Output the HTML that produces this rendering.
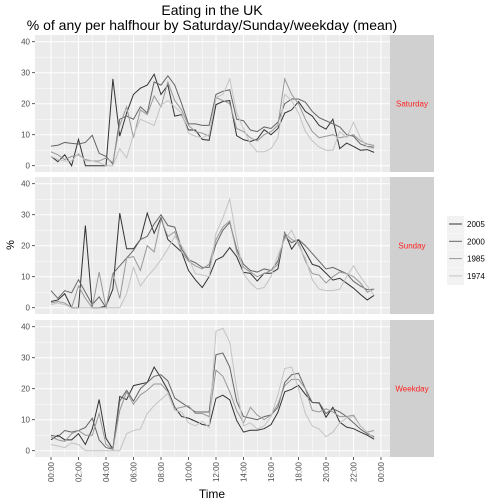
<!DOCTYPE html>
<html><head><meta charset="utf-8"><style>
body{margin:0;background:#fff}
svg{display:block;font-family:"Liberation Sans",sans-serif}
</style></head><body>
<svg id="chart" width="504" height="504" viewBox="0 0 504 504">
<text x="212" y="15" font-size="14" text-anchor="middle">Eating in the UK</text>
<text x="212" y="30" font-size="14" text-anchor="middle">% of any per halfhour by Saturday/Sunday/weekday (mean)</text>
<text x="0" y="0" font-size="11" text-anchor="middle" transform="translate(14,245) rotate(-90)">%</text>
<text x="212" y="498" font-size="12" text-anchor="middle">Time</text>
<g id="panels"></g>
<g id="legend"></g>
</svg>
<script>
const years = ["2005","2000","1985","1974"];
const colors = ["#333333","#666666","#999999","#c4c4c4"];
const facets = ["Saturday","Sunday","Weekday"];
const yTicks = [0,10,20,30,40];
const xTickLabels = ["00:00","02:00","04:00","06:00","08:00","10:00","12:00","14:00","16:00","18:00","20:00","22:00","00:00"];

const sat2005 = [3,1.3,3.5,0,8.5,0,0,0,0,28,9.5,17,23,25,26,29.5,23,26,16,16.5,11.5,11.5,8.5,8.2,19.7,20.7,21,9.7,8.4,7.8,8.6,11.6,10,12,17,18,20.7,17.5,16,13,11.8,15,5.5,7.3,6.2,5,5.2,4.3];
const sat2000 = [6.3,6.6,7.5,7.2,7,7.5,9.8,4,3,0.5,15,16,15,19,17,27,26,29,26,20,13.5,13.5,13,13,23,24,24.5,15,14.5,11.5,11,12.5,12,14,20,21.5,21.5,20.5,17.5,15.5,14.5,13.5,12.5,10,9.5,7,6.2,6];
const sat1985 = [4.5,3.5,2,3,3.5,2,1.5,1.5,2.5,1,13,19,9,18,16.5,22.5,19,27,21,18,13,11,10.5,9.5,22,21,20,12,11,9,8,10,11,13,28,23,20,15,11,9,9.5,10,9,9.5,10,8,7,6.5];
const sat1974 = [3,2,1.5,1.5,4,1.5,1.5,1,0,0,5.5,2.5,10,15,14,13,19.5,21,19,17,10.5,9.5,9,10,22,23,28,17,12,7,4.5,4.5,5.5,9,23,21,17,11,8,6,5,5,11,9,14,9,6,5.5];

const sun2005 = [2,2.5,4.5,0,0,26.5,0,0,0.5,6,30.5,19,19,22,30.5,24,29,22,20,18,12,9,6.5,10,15.4,16.5,19.4,16.5,11.4,11.1,8.6,11.1,11.1,12.5,24.2,18.9,21.9,18.1,14,13.3,11.1,8.9,9.5,7.9,6.3,4.3,2.5,4];
const sun2000 = [5.5,3,5.5,4.8,9,5,1,3.5,0,11,13.5,16,18.5,22,23,27,30,26.5,26,19,15.5,14.5,13,13,20.5,25,27.5,19,14,12,11.5,12.5,12,15,23,21,22,20,17.5,15,12.5,13,12,11,8.5,7,5.8,6];
const sun1985 = [1.5,2,1.5,0,7,3,0,11.5,0,11,3,16,16.5,12,20,18,28.5,23,24.5,18,15,13.5,12.5,14,22,26,28,18,13,11.5,10,11,12,14,24,22,21,15,11,10.5,8,10,11.5,11,10,8,5,6];
const sun1974 = [1,1.5,1,0,0,0,0,0,0,0,0,4.5,13,7,10,12.5,15.5,19,23,20,16,11,10.5,10,24,29,35,22,11,8,6,6.5,10,17,22,25,20,16,9,6,5.5,5.5,6,10,13.5,10,7,4];

const wk2005 = [3.5,5,3.5,3.5,5.5,2,7,16.5,4,0.5,17.5,16.5,21,21.5,22,27,23.5,19.5,14,11,10.5,9.5,8.5,8,16.9,17.9,16.4,9.8,6,6.6,6.6,7.1,8.4,12.4,19,19.8,21.1,18.2,15.6,15.4,10.8,14,9.2,7.6,7.1,6,5,3.7];
const wk2000 = [5,4.5,6.5,6,6.5,7.5,10.5,3.5,1,0.5,16,19.5,16,20,22,24,24.5,22.5,17,15.5,14,12.5,12.5,12.5,31,31.5,27,16,11,10.5,10,11,11.5,14,22,24.5,25,20,15.5,15.5,12,13.5,12.5,11,9,7,5.5,4.5];
const wk1985 = [4.5,3.5,3,5.5,6.5,5,5,12,2,0.5,13,19,15,18,19.5,21.5,21.5,19,13.5,14,14.5,12,12,11,26,24,19,13,9,14,11.5,10,11.5,15,21,23,23,20,13,12.5,13.5,12.5,11,11,11.5,8,6,6.5];
const wk1974 = [2,1.5,1,2.5,2,0,0,0,0,0,0,5.5,6.5,7,12,14.5,16.5,18.5,13,12.5,9,8,9.5,7.5,38.5,39.5,35,20,8,9,7,8,11,18,26.5,27,20,12,8,7,4.5,6,9,10.5,11,8,6,4];

const facetSeries = [[sat2005,sat2000,sat1985,sat1974],[sun2005,sun2000,sun1985,sun1974],[wk2005,wk2000,wk1985,wk1974]];

const NS="http://www.w3.org/2000/svg";
function mk(tag,attrs,parent){const e=document.createElementNS(NS,tag);for(const k in attrs)e.setAttribute(k,attrs[k]);parent.appendChild(e);return e;}
const PX0=35, PX1=390, SX1=434;
const panelTops=[35,177,320], PH=137;
const xScale = h => 51 + h*(330/24);         // hours -> px
const yScaleFor = top => v => top + PH - 6.3 - v*3.1;
const panelsG=document.getElementById('panels');

facets.forEach((f,fi)=>{
  const top=panelTops[fi], ys=yScaleFor(top);
  const g=mk('g',{},panelsG);
  
  
  mk('rect',{x:PX0,y:top,width:PX1-PX0,height:PH,fill:'#ebebeb'},g);
  for(let v=5;v<40;v+=10) mk('line',{x1:PX0,x2:PX1,y1:ys(v),y2:ys(v),stroke:'#fff','stroke-width':0.5},g);
  for(let h=1;h<24;h+=2) mk('line',{x1:xScale(h),x2:xScale(h),y1:top,y2:top+PH,stroke:'#fff','stroke-width':0.5},g);
  yTicks.forEach(v=>{
    mk('line',{x1:PX0,x2:PX1,y1:ys(v),y2:ys(v),stroke:'#fff','stroke-width':1},g);
    mk('line',{x1:PX0-3,x2:PX0,y1:ys(v),y2:ys(v),stroke:'#333','stroke-width':0.8},g);
    const t=mk('text',{x:PX0-5,y:ys(v)+3,'font-size':8,'text-anchor':'end',fill:'#4d4d4d'},g);
    
    
    t.textContent=v;
  });
  xTickLabels.forEach((l,i)=>mk('line',{x1:xScale(i*2),x2:xScale(i*2),y1:top,y2:top+PH,stroke:'#fff','stroke-width':1},g));
  facetSeries[fi].forEach((arr,si)=>{
    const d=arr.map((v,i)=>(i?'L':'M')+xScale(i*0.5).toFixed(2)+','+ys(v).toFixed(2)).join(' ');
    const p=mk('path',{d:d,fill:'none',stroke:colors[si],'stroke-width':1},g);
    
    
  });
  const s=mk('rect',{x:PX1,y:top,width:SX1-PX1,height:PH,fill:'#d0d0d0'},g);
  
  
  const st=mk('text',{x:(PX1+SX1)/2,y:top+PH/2+3,'font-size':8,'text-anchor':'middle',fill:'#f22'},g);
  
  
  st.textContent=f;
});
// x axis ticks
const ax=mk('g',{},panelsG);


xTickLabels.forEach((l,i)=>{
  const x=xScale(i*2);
  mk('line',{x1:x,x2:x,y1:457,y2:460,stroke:'#333','stroke-width':0.8},ax);
  const t=mk('text',{'font-size':8,'text-anchor':'end',fill:'#4d4d4d',transform:`translate(${x+3},462) rotate(-90)`},ax);
  
  
  t.textContent=l;
});
// legend
const lg=document.getElementById('legend');
years.forEach((y,i)=>{
  const cy=224+i*17.3;
  const e=mk('g',{},lg);
  
  
  mk('rect',{x:447,y:cy-8,width:17,height:17,fill:'#f2f2f2'},e);
  mk('line',{x1:449,x2:462,y1:cy,y2:cy,stroke:colors[i],'stroke-width':1},e);
  const t=mk('text',{x:467,y:cy+3,'font-size':8,fill:'#000'},e);
  t.textContent=y;
});
</script>
</body></html>
